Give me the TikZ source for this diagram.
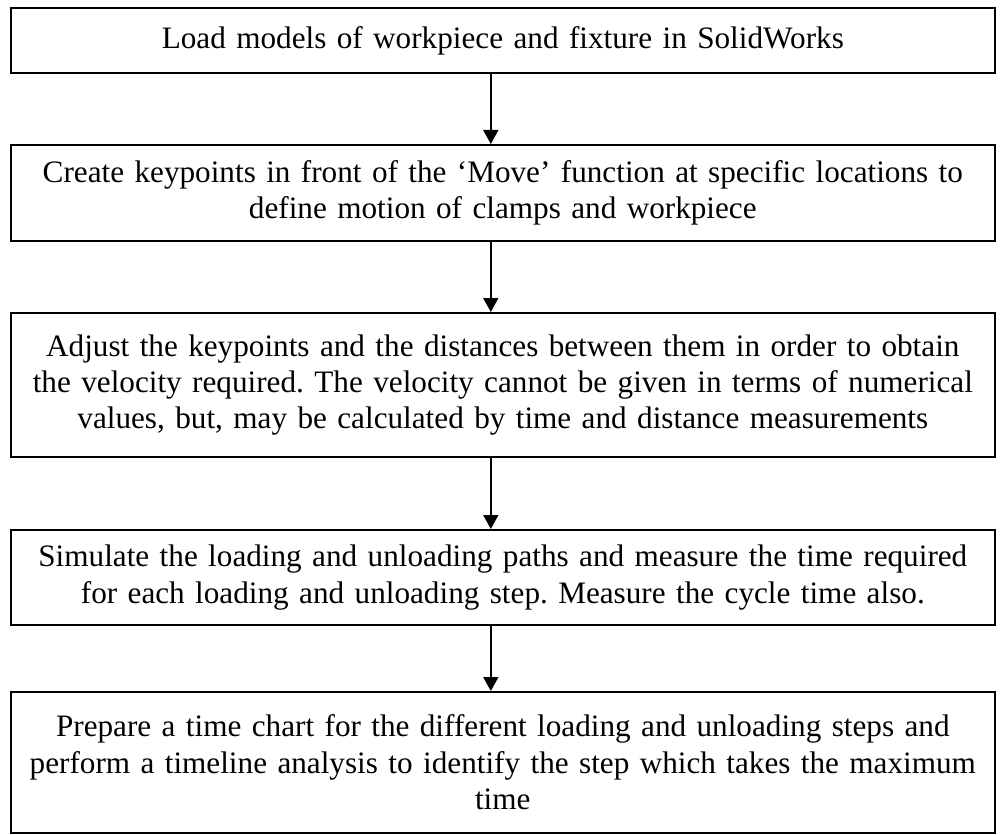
\documentclass[tikz,border=0pt]{standalone}
\usepackage{fontspec}
\setmainfont{Liberation Serif}
\usetikzlibrary{arrows.meta}
\frenchspacing

\begin{document}
\begin{tikzpicture}[
	stepbox/.style = {draw, line width = 1pt, text width = 492pt, align = center,
		inner sep = 0pt, font = \fontsize{15.6}{18.2}\selectfont},
	flow/.style = {line width = 0.8pt, -{Triangle[length = 7pt, width = 7.5pt]}}
	]
	\useasboundingbox (0,0) rectangle (502.5pt,-417pt);
	\node [stepbox, minimum height = 32.5pt] (load) at (251.4pt,-20.25pt) {Load models of workpiece and fixture in SolidWorks};
	\node [stepbox, minimum height = 48pt] (keys) at (251.4pt,-96.5pt) {Create keypoints in front of the ‘Move’ function at specific locations to\\ define motion of clamps and workpiece};
	\node [stepbox, minimum height = 72pt] (adjust) at (251.4pt,-192.5pt) {Adjust the keypoints and the distances between them in order to obtain\\ the velocity required. The velocity cannot be given in terms of numerical\\ values, but, may be calculated by time and distance measurements};
	\node [stepbox, minimum height = 47.5pt] (sim) at (251.4pt,-288.75pt) {Simulate the loading and unloading paths and measure the time required\\ for each loading and unloading step. Measure the cycle time also.};
	\node [stepbox, minimum height = 70.5pt] (chart) at (251.4pt,-381.25pt) {Prepare a time chart for the different loading and unloading steps and\\ perform a timeline analysis to identify the step which takes the maximum\\ time};
	% arrows sit a little left of the box centres
	\draw [flow] ([xshift = -6pt]load.south) -- ([xshift = -6pt]keys.north);
	\draw [flow] ([xshift = -6pt]keys.south) -- ([xshift = -6pt]adjust.north);
	\draw [flow] ([xshift = -6pt]adjust.south) -- ([xshift = -6pt]sim.north);
	\draw [flow] ([xshift = -6pt]sim.south) -- ([xshift = -6pt]chart.north);
\end{tikzpicture}
\end{document}
